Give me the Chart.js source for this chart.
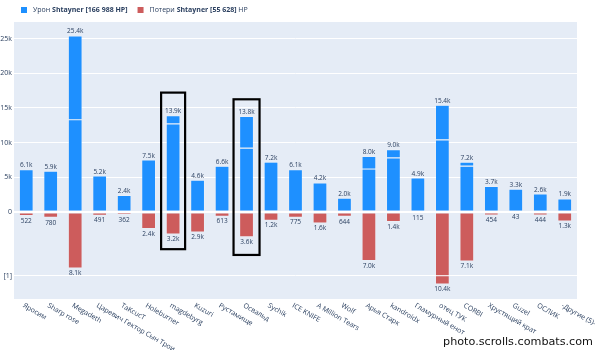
<!DOCTYPE html>
<html>
<head>
<meta charset="utf-8">
<script src="https://cdn.jsdelivr.net/npm/chart.js@4"></script>
<style>
html,body{margin:0;padding:0;background:#fff;}
#wrap{position:relative;width:600px;height:350px;}
</style>
</head>
<body>
<div id="wrap"><canvas id="c" width="600" height="350"></canvas></div>
<script>
const categories = ['Яросим','Sharp rose','Megadeth','Царевич Гектор Сын Трои','TaKcucT','Holeburner','magdebyrg','Kuzuri','Рустамище','Освальд','Sychik','ICE KNIFE','A Million Tears','Wolf','Арья Старк','kandroidx','Гламурный енот','отец ТУК','CORBI','Хрустящий крат','Guzel','ОСЛИК','-Другие (5)-'];
const damageTotal = [6100,5900,25400,5200,2400,7500,13900,4600,6600,13800,7200,6100,4200,2000,8000,9000,4900,15400,7200,3700,3300,2600,1900];
const damageSplit = [null,null,13300,null,null,null,12700,null,null,9200,null,null,null,null,6200,7800,null,10400,6600,null,null,null,null];
const lossTotal = [522,780,8100,491,362,2400,3200,2900,613,3600,1200,775,1600,644,7000,1400,115,10400,7100,454,43,444,1300];
const lossSplit = [null,null,null,null,null,null,null,null,null,null,null,null,null,null,null,null,null,9200,null,null,null,null,null];
const tickValues = [-9200,0,5000,10000,15000,20000,25000];
const tickLabels = ['[1]','0','5k','10k','15k','20k','25k'];
const highlighted = ['magdebyrg','Освальд'];
const legendDamage = [['Урон ', false], ['Shtayner [166 988 HP]', true]];
const legendLoss = [['Потери ', false], ['Shtayner [55 628]', true], [' HP', false]];
const watermark = 'photo.scrolls.combats.com';

const BLUE = '#1E90FF', RED = '#CD5C5C', TXT = '#2a3f5f';
const FONT = '"Open Sans", "Noto Sans", sans-serif';

const dmgLow = damageTotal.map((t,i)=> damageSplit[i] != null ? damageSplit[i] : t);
const dmgHigh = damageTotal.map((t,i)=> damageSplit[i] != null ? t - damageSplit[i] : null);
const lossLow = lossTotal.map((t,i)=> -(lossSplit[i] != null ? lossSplit[i] : t));
const lossHigh = lossTotal.map((t,i)=> lossSplit[i] != null ? -(t - lossSplit[i]) : null);

function fmt(v){ return v >= 1000 ? (v/1000).toFixed(1)+'k' : String(v); }

const bgPlugin = {
  id:'bg',
  beforeDraw(chart){
    const {ctx, chartArea:a} = chart;
    ctx.save();
    ctx.fillStyle = '#E5ECF6';
    ctx.fillRect(a.left, a.top, a.right-a.left, a.bottom-a.top);
    ctx.restore();
  }
};

const overlayPlugin = {
  id:'overlay',
  afterDatasetsDraw(chart){
    const {ctx, chartArea:a, scales:{x,y}} = chart;
    ctx.save();
    ctx.font = '6.5px ' + FONT;
    ctx.fillStyle = TXT;
    ctx.textAlign = 'center';
    categories.forEach((c,i)=>{
      const px = x.getPixelForValue(i);
      ctx.textBaseline = 'bottom';
      ctx.fillText(fmt(damageTotal[i]), px, y.getPixelForValue(damageTotal[i]) - 1);
      ctx.textBaseline = 'top';
      ctx.fillText(fmt(lossTotal[i]), px, y.getPixelForValue(-lossTotal[i]) + 2);
    });
    ctx.strokeStyle = '#000';
    ctx.lineWidth = 2.2;
    const pads = [[23,15,12],[17,18,13]];
    highlighted.forEach((name,k)=>{
      const i = categories.indexOf(name);
      const px = x.getPixelForValue(i);
      const top = y.getPixelForValue(damageTotal[i]) - pads[k][0];
      const bot = y.getPixelForValue(-lossTotal[i]) + pads[k][1];
      const hw = pads[k][2];
      ctx.strokeRect(px-hw, top, hw*2, bot-top);
    });
    ctx.restore();
  },
  afterDraw(chart){
    const {ctx, chartArea:a, scales:{x}} = chart;
    ctx.save();
    ctx.font = '7px ' + FONT;
    ctx.fillStyle = TXT;
    ctx.textAlign = 'left';
    ctx.textBaseline = 'top';
    categories.forEach((c,i)=>{
      const px = x.getPixelForValue(i);
      ctx.save();
      ctx.translate(px - 1, a.bottom + 3);
      ctx.rotate(30*Math.PI/180);
      ctx.fillText(c, 0, 0);
      ctx.restore();
    });
    let lx = 21;
    const ly = 10;
    const items = [[BLUE, legendDamage],[RED, legendLoss]];
    items.forEach(([col, parts])=>{
      ctx.fillStyle = col;
      ctx.fillRect(lx, ly-3, 6, 6);
      lx += 12;
      ctx.textBaseline = 'middle';
      parts.forEach(([t,b])=>{
        ctx.font = (b ? 'bold ' : '') + '7px ' + FONT;
        ctx.fillStyle = TXT;
        ctx.fillText(t, lx, ly);
        lx += ctx.measureText(t).width;
      });
      lx += 10;
    });
    ctx.font = '11.2px "DejaVu Sans", sans-serif';
    ctx.fillStyle = '#111';
    ctx.textAlign = 'right';
    ctx.textBaseline = 'alphabetic';
    ctx.fillText(watermark, 593, 345);
    ctx.restore();
  }
};

const common = {stack:'s', barPercentage:0.57, categoryPercentage:1, borderWidth:0.6, borderSkipped:false, borderColor:'rgba(255,255,255,0.35)'};

new Chart(document.getElementById('c'), {
  type:'bar',
  data:{
    labels: categories,
    datasets:[
      Object.assign({label:'dmgLow', data:dmgLow, backgroundColor:BLUE}, common),
      Object.assign({label:'dmgHigh', data:dmgHigh, backgroundColor:BLUE}, common),
      Object.assign({label:'lossLow', data:lossLow, backgroundColor:RED}, common),
      Object.assign({label:'lossHigh', data:lossHigh, backgroundColor:RED}, common)
    ]
  },
  options:{
    responsive:false,
    animation:false,
    layout:{padding:{left:0, top:22, right:23, bottom:51}},
    plugins:{legend:{display:false}, tooltip:{enabled:false}},
    scales:{
      x:{
        stacked:true,
        ticks:{display:false},
        grid:{display:false},
        border:{display:false},
        afterFit(s){ s.height = 0; }
      },
      y:{
        stacked:true,
        min:-12550, max:27400,
        afterBuildTicks(s){ s.ticks = tickValues.map(v=>({value:v})); },
        afterFit(s){ s.width = 14; },
        ticks:{
          padding:2,
          color:TXT,
          font:{family:FONT, size:7},
          callback(v){ const k = tickValues.indexOf(v); return k>=0 ? tickLabels[k] : ''; }
        },
        grid:{
          color:'#ffffff',
          lineWidth(ctx){ return ctx.tick && ctx.tick.value === 0 ? 2 : 1; },
          drawTicks:false
        },
        border:{display:false}
      }
    }
  },
  plugins:[bgPlugin, overlayPlugin]
});
</script>
</body>
</html>
